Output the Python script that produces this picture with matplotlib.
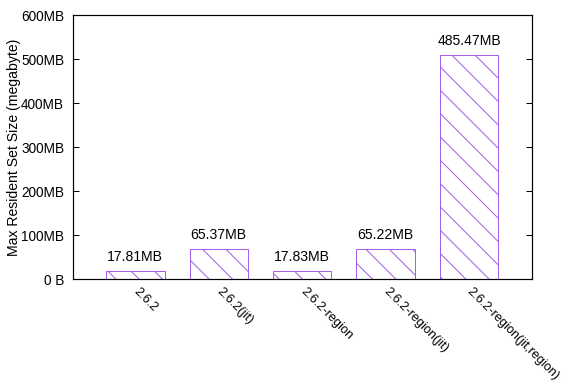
import matplotlib
matplotlib.use("Agg")
import matplotlib.pyplot as plt
from matplotlib.ticker import FuncFormatter, MultipleLocator

# Peak resident set size per build, in MiB (as printed on each bar)
builds = ["2.6.2", "2.6.2(jit)", "2.6.2-region", "2.6.2-region(jit)", "2.6.2-region(jit,region)"]
rss_mib = [17.81, 65.37, 17.83, 65.22, 485.47]

DPI = 140
W, H = 566, 389


def px(v):
    """pixels -> points at the figure dpi"""
    return v * 72.0 / DPI


plt.rcParams["font.family"] = ["Liberation Sans", "DejaVu Sans"]
plt.rcParams["hatch.linewidth"] = px(1.0)

fig = plt.figure(figsize=((W + 0.01) / DPI, (H + 0.01) / DPI), dpi=DPI)
ax = fig.add_axes([72.7 / W, 1 - 279.5 / H, (531.7 - 72.7) / W, (279.5 - 15) / H])

bar_color = "#a45ee8"
rss_bytes = [v * 1024 * 1024 for v in rss_mib]
x = list(range(len(builds)))
bars = ax.bar(x, rss_bytes, width=0.7, facecolor="none", edgecolor=bar_color,
              hatch="\\\\", linewidth=px(1.0))

fs = px(14)
for xi, b, v in zip(x, rss_bytes, rss_mib):
    ax.annotate(f"{v:.2f}MB", (xi, b), xytext=(0, px(10)), textcoords="offset points",
                ha="center", va="baseline", fontsize=fs)

ax.set_xlim(-0.75, 4.75)
ax.set_ylim(0, 600e6)
ax.yaxis.set_major_locator(MultipleLocator(100e6))
ax.yaxis.set_major_formatter(FuncFormatter(lambda v, p: "0 B" if v == 0 else f"{v / 1e6:.0f}MB"))

ax.tick_params(axis="y", direction="in", length=px(6), width=px(1), labelsize=px(13.6),
               pad=px(8.5), right=True, left=True)
ax.set_xticks(x)
ax.set_xticklabels(builds, rotation=-45, ha="left", va="center",
                   rotation_mode="anchor", fontsize=px(12.7))
ax.tick_params(axis="x", length=0, pad=px(10))

for s in ax.spines.values():
    s.set_linewidth(px(1.2))
    s.set_color("black")

ax.set_ylabel("Max Resident Set Size (megabyte)", fontsize=fs, va="center")
ax.yaxis.set_label_coords(-(72.7 - 14) / (531.7 - 72.7), 0.5)

fig.savefig("out.png", dpi=DPI)
